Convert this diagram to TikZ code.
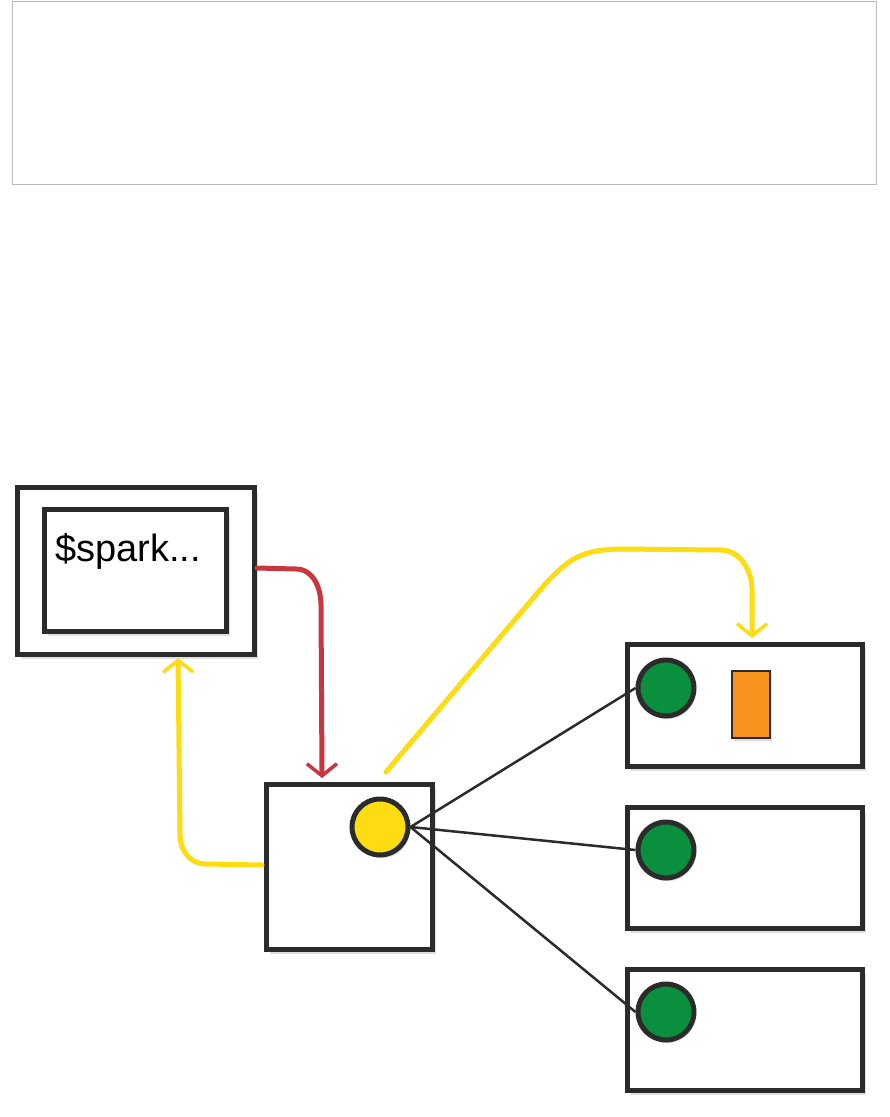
\documentclass[tikz,border=0pt]{standalone}
\usepackage{fontspec}
\newfontfamily\handfont{Liberation Sans}
\usetikzlibrary{arrows.meta,shadows}
\definecolor{ink}{HTML}{2B2B2B}
\definecolor{sred}{HTML}{C8373E}
\definecolor{syel}{HTML}{FDDC12}
\definecolor{sgreen}{HTML}{0A8F3E}
\definecolor{sorange}{HTML}{F7941D}
\definecolor{frame}{HTML}{B8B8B8}
\tikzset{
  sbox/.style={draw=ink, line width=5pt, fill=white, rectangle, inner sep=0pt,
    drop shadow={shadow xshift=3pt, shadow yshift=-4pt, opacity=0.25}},
  dot/.style={circle, draw=ink, line width=5pt, inner sep=0pt, minimum size=56pt,
    drop shadow={shadow xshift=2pt, shadow yshift=-3pt, opacity=0.25}},
  flow/.style={line width=5pt, line cap=round, -{Straight Barb[length=12pt,width=30pt,line width=3.5pt]}},
  wire/.style={draw=ink, line width=2.5pt},
}
\begin{document}
\begin{tikzpicture}[x=1pt,y=-1pt]
\useasboundingbox (0,0) rectangle (890,1117);
\fill[white] (0,0) rectangle (890,1117);
\node[draw=frame, line width=1pt, anchor=north west, minimum width=864pt, minimum height=183pt, inner sep=0pt] (frm) at (12,1) {};

% client
\node[sbox, anchor=north west, minimum width=237pt, minimum height=167pt] (client) at (15,485) {};
\node[sbox, anchor=north west, minimum width=182pt, minimum height=122pt] (shell) at (42,507) {};
\node[anchor=base west, text=black, inner sep=0pt] (cmd) at (55,561) {\handfont\fontsize{38pt}{42pt}\selectfont \$spark...};

% driver
\node[sbox, anchor=north west, minimum width=166pt, minimum height=165pt] (driver) at (264,782) {};
\node[dot, fill=syel] (yc) at (380,827) {};

% workers
\node[sbox, anchor=north west, minimum width=235pt, minimum height=122pt] (w1) at (625,642) {};
\node[sbox, anchor=north west, minimum width=235pt, minimum height=121pt] (w2) at (625,805) {};
\node[sbox, anchor=north west, minimum width=235pt, minimum height=121pt] (w3) at (625,967) {};
\node[dot, fill=sgreen] (g1) at (666,688) {};
\node[dot, fill=sgreen] (g2) at (666,850) {};
\node[dot, fill=sgreen] (g3) at (666,1012) {};
\node[draw=ink, line width=2pt, fill=sorange, anchor=north west, minimum width=38pt, minimum height=67pt, inner sep=0pt,
  drop shadow={shadow xshift=2pt, shadow yshift=-3pt, opacity=0.25}] (task) at (731,670) {};

% wires
\draw[wire] (yc.east) -- (g1.west);
\draw[wire] (yc.east) -- (g2.west);
\draw[wire] (yc.east) -- (g3.west);

% red arrow client -> driver
\coordinate (r0) at (client.east |- 0,568);
\draw[flow, draw=sred] (r0) -- (296,569) to[out=0,in=90] (321,605) -- (322,778);

% yellow arrow driver -> worker 1
\coordinate (y0) at (386,772);
\draw[flow, draw=syel] (y0) -- (540,590) .. controls (570,555) and (585,550) .. (620,549) -- (720,550) to[out=0,in=90] (752,590) -- (752,638);

% yellow arrow driver -> client
\coordinate (y1) at (262,865);
\draw[flow, draw=syel] (y1) -- (205,864) to[out=180,in=-90] (180,835) -- (178,658);
\end{tikzpicture}
\end{document}
